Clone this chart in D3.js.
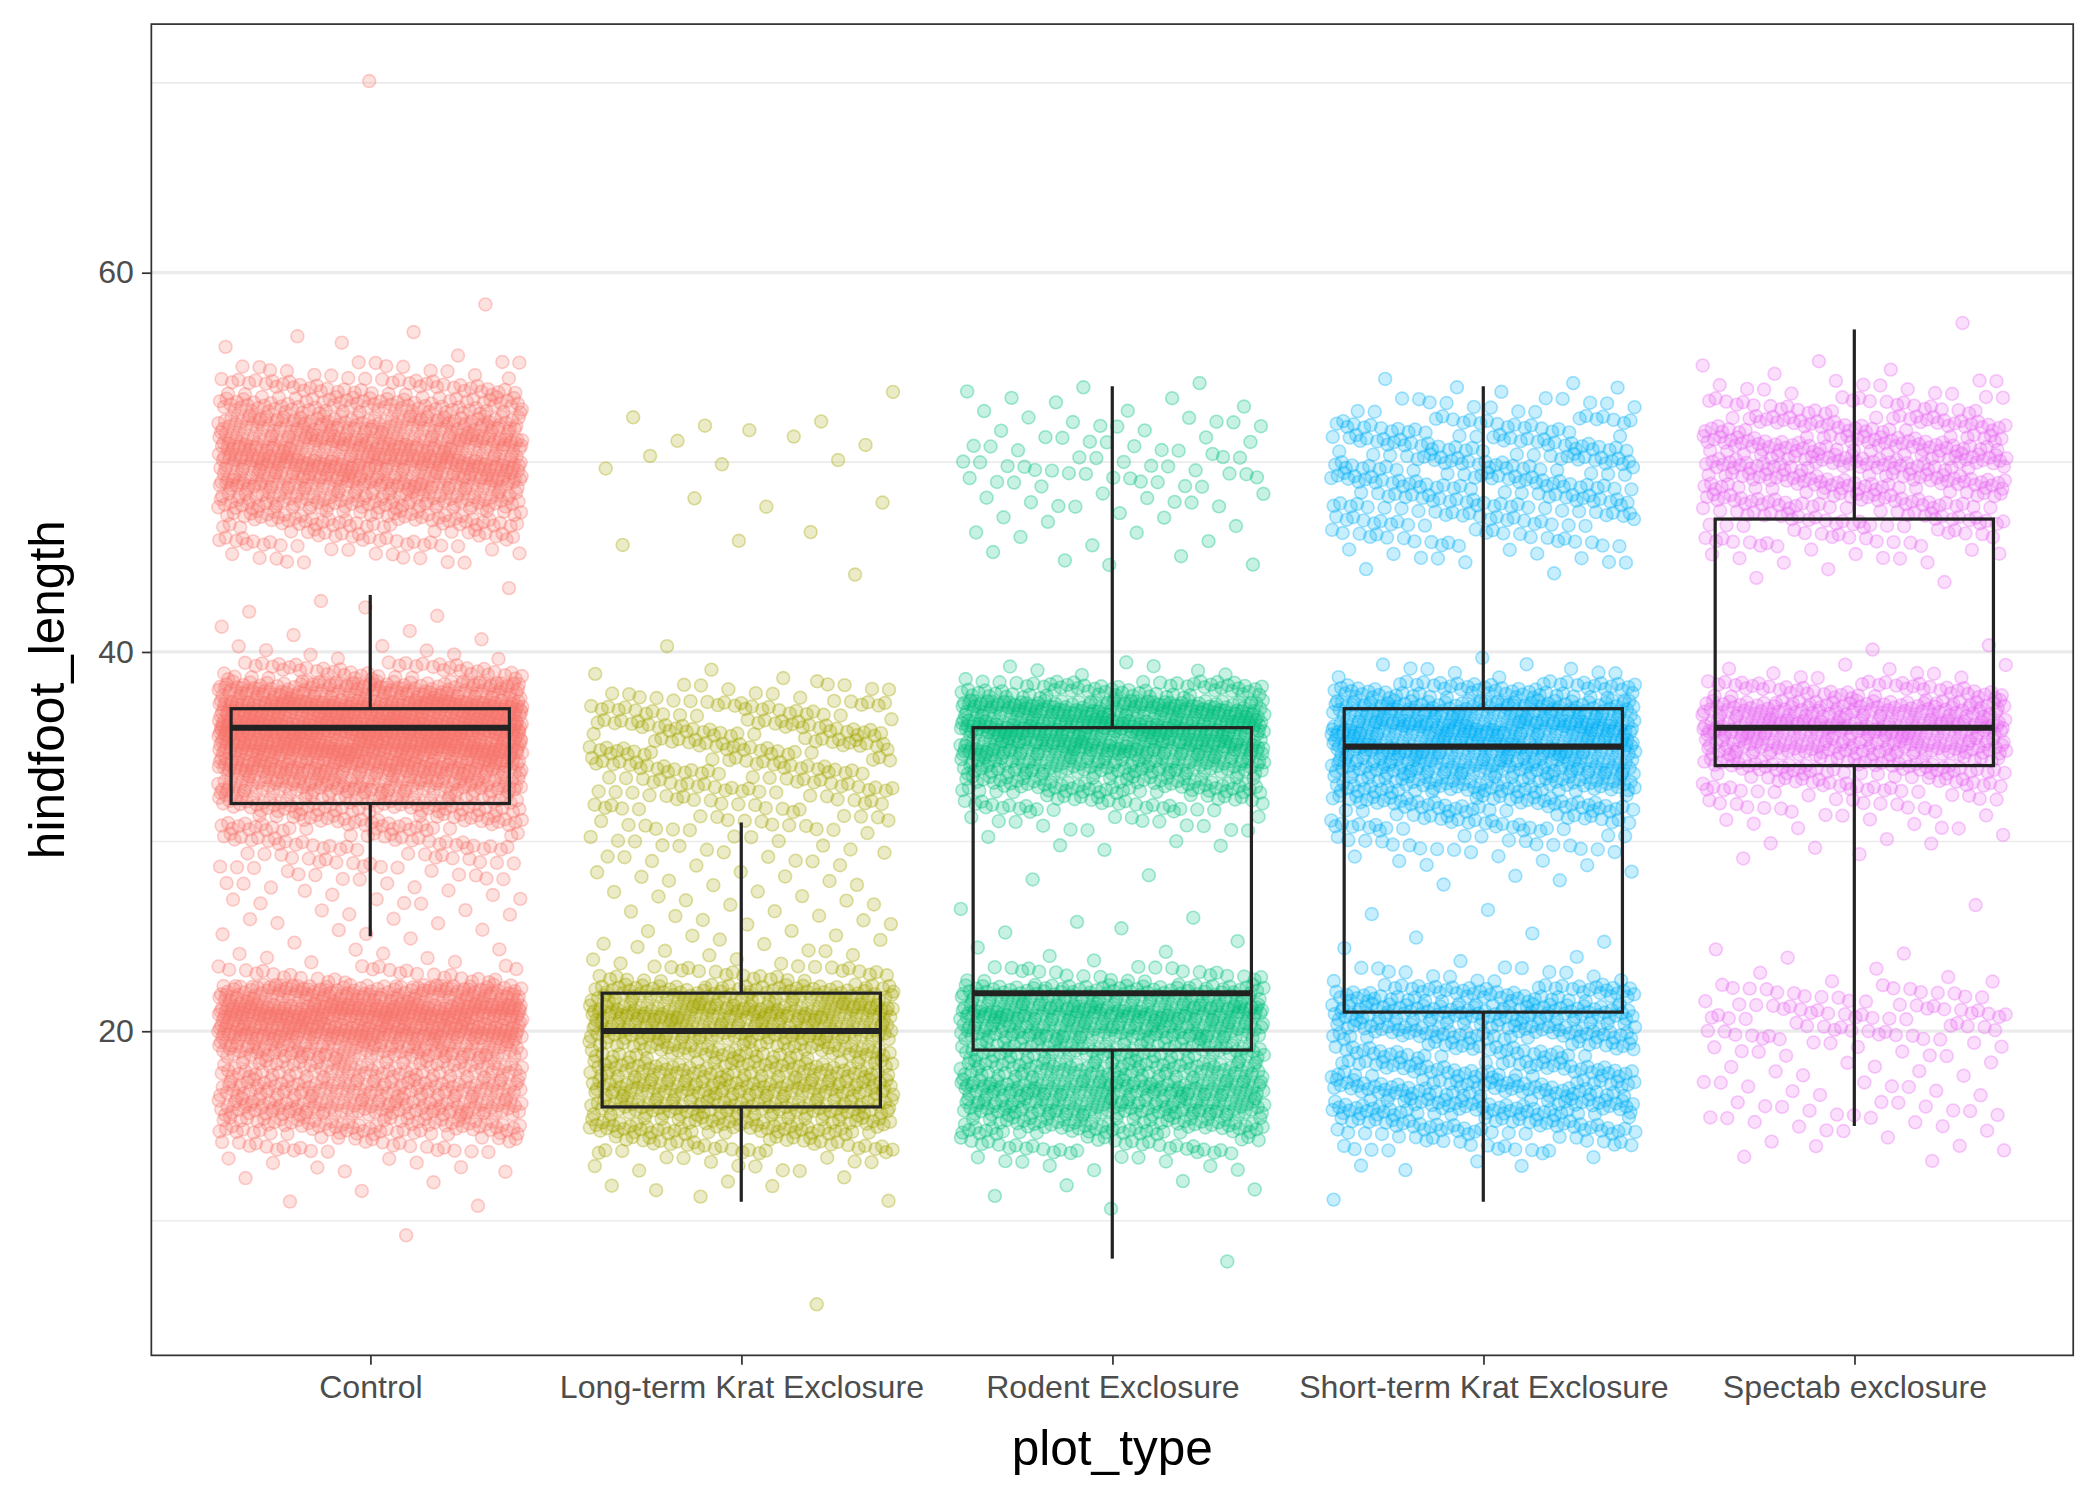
<!DOCTYPE html>
<html><head><meta charset="utf-8">
<script src="https://cdn.jsdelivr.net/npm/d3@7"></script>
<style>body{margin:0;background:#fff}text{font-family:"Liberation Sans",Arial,sans-serif}</style>
</head><body><div id="chart"></div>
<script>
var categories = ["Control", "Long-term Krat Exclosure", "Rodent Exclosure", "Short-term Krat Exclosure", "Spectab exclosure"];
var colors = ["#F8766D", "#A3A500", "#00BF7D", "#00B0F6", "#E76BF3"];
// [hindfoot_length, number of points]
var controlCounts = [[9,1],[11,2],[12,3],[13,8],[14,30],[15,80],[16,120],[17,110],[18,90],[19,130],[20,220],[21,260],[22,160],[23,30],[24,8],[25,6],[26,8],[27,10],[28,15],[29,25],[30,40],[31,60],[32,90],[33,140],[34,200],[35,280],[36,350],[37,300],[38,160],[39,50],[40,8],[41,4],[42,3],[43,2],[45,15],[46,40],[47,70],[48,110],[49,150],[50,180],[51,160],[52,130],[53,90],[54,50],[55,15],[56,3],[57,2],[58,1],[70,1]];
var longTermCounts = [[6,1],[11,2],[12,5],[13,12],[14,40],[15,80],[16,100],[17,110],[18,90],[19,80],[20,120],[21,140],[22,100],[23,30],[24,10],[25,8],[26,8],[27,8],[28,8],[29,10],[30,12],[31,20],[32,25],[33,35],[34,40],[35,45],[36,45],[37,35],[38,15],[39,3],[40,1],[44,1],[46,3],[48,3],[50,4],[51,3],[52,4],[54,1]];
var rodentCounts = [[8,1],[11,2],[12,3],[13,10],[14,35],[15,80],[16,120],[17,130],[18,100],[19,90],[20,130],[21,160],[22,110],[23,25],[24,4],[25,3],[26,3],[28,2],[30,5],[31,15],[32,40],[33,80],[34,120],[35,170],[36,200],[37,170],[38,70],[39,8],[45,5],[46,5],[47,5],[48,10],[49,15],[50,15],[51,12],[52,10],[53,6],[54,3]];
var shortTermCounts = [[11,1],[13,5],[14,25],[15,55],[16,80],[17,80],[18,60],[19,50],[20,80],[21,100],[22,70],[23,15],[24,3],[25,3],[26,2],[28,4],[29,8],[30,20],[31,40],[32,60],[33,90],[34,120],[35,150],[36,160],[37,130],[38,70],[39,10],[40,1],[44,2],[45,10],[46,25],[47,35],[48,45],[49,50],[50,50],[51,45],[52,35],[53,15],[54,5]];
var spectabCounts = [[13,2],[14,5],[15,10],[16,12],[17,10],[18,8],[19,12],[20,25],[21,30],[22,20],[23,5],[24,3],[27,1],[29,2],[30,5],[31,10],[32,20],[33,40],[34,70],[35,110],[36,140],[37,110],[38,50],[39,10],[40,2],[44,3],[45,10],[46,25],[47,40],[48,55],[49,70],[50,80],[51,75],[52,55],[53,30],[54,12],[55,4],[57,1]];
var allCounts = [controlCounts, longTermCounts, rodentCounts, shortTermCounts, spectabCounts];
// whisker low, Q1, median, Q3, whisker high
var boxStats = [[25,32,36,37,43],[11,16,20,22,31],[8,19,22,36,54],[11,21,35,37,54],[15,34,36,47,57]];
var yTicks = [20, 40, 60];
var yMinor = [10, 30, 50, 70];

var W = 1568, H = 1120;
var m = {left: 113, right: 20, top: 18, bottom: 108};
var svg = d3.select("#chart").append("svg")
    .attr("width", 2100).attr("height", 1500)
    .attr("viewBox", "0 0 " + W + " " + H);

var step = (W - m.left - m.right) / (categories.length - 1 + 1.18);
var x = d3.scalePoint().domain(categories)
    .range([m.left + 0.59 * step, W - m.right - 0.59 * step]);
var y = d3.scaleLinear().domain([2.9, 73.1]).range([H - m.bottom, m.top]);

var g = svg.append("g");
g.selectAll(".minor").data(yMinor).enter().append("line")
    .attr("x1", m.left).attr("x2", W - m.right)
    .attr("y1", d => y(d)).attr("y2", d => y(d))
    .attr("stroke", "#ebebeb").attr("stroke-width", 1.2);
g.selectAll(".major").data(yTicks).enter().append("line")
    .attr("x1", m.left).attr("x2", W - m.right)
    .attr("y1", d => y(d)).attr("y2", d => y(d))
    .attr("stroke", "#ebebeb").attr("stroke-width", 2.4);

// jittered points (deterministic low-discrepancy offsets)
var pts = [];
allCounts.forEach(function (counts, ci) {
    var k = 0;
    counts.forEach(function (c) {
        for (var j = 0; j < c[1]; j++) {
            k++;
            var fx = (k * 0.6180339887 + ci * 0.13) % 1;
            var fy = (k * 0.7548776662 + ci * 0.29) % 1;
            pts.push({ci: ci, dx: (fx * 2 - 1) * 0.41, v: c[0] + (fy * 2 - 1) * 0.45});
        }
    });
});
g.selectAll(".pt").data(pts).enter().append("circle")
    .attr("cx", d => x(categories[d.ci]) + d.dx * step)
    .attr("cy", d => y(d.v))
    .attr("r", 4.8)
    .attr("fill", d => colors[d.ci]).attr("fill-opacity", 0.22)
    .attr("stroke", d => colors[d.ci]).attr("stroke-opacity", 0.35).attr("stroke-width", 1.2);

// boxes
var boxes = g.selectAll(".box").data(boxStats).enter().append("g")
    .attr("transform", (d, i) => "translate(" + x(categories[i]) + ",0)");
var half = step * 0.375;
boxes.append("line").attr("x1", 0).attr("x2", 0).attr("y1", d => y(d[0])).attr("y2", d => y(d[1]))
    .attr("stroke", "#222").attr("stroke-width", 2.4);
boxes.append("line").attr("x1", 0).attr("x2", 0).attr("y1", d => y(d[3])).attr("y2", d => y(d[4]))
    .attr("stroke", "#222").attr("stroke-width", 2.4);
boxes.append("rect").attr("x", -half).attr("width", 2 * half)
    .attr("y", d => y(d[3])).attr("height", d => y(d[1]) - y(d[3]))
    .attr("fill", "none").attr("stroke", "#222").attr("stroke-width", 2.4);
boxes.append("line").attr("x1", -half).attr("x2", half).attr("y1", d => y(d[2])).attr("y2", d => y(d[2]))
    .attr("stroke", "#222").attr("stroke-width", 4.5);

// panel border
svg.append("rect").attr("x", m.left).attr("y", m.top)
    .attr("width", W - m.left - m.right).attr("height", H - m.top - m.bottom)
    .attr("fill", "none").attr("stroke", "#333").attr("stroke-width", 1.3);

var xa = svg.append("g").attr("transform", "translate(0," + (H - m.bottom) + ")")
    .call(d3.axisBottom(x).tickSize(7).tickPadding(8));
var ya = svg.append("g").attr("transform", "translate(" + m.left + ",0)")
    .call(d3.axisLeft(y).tickValues(yTicks).tickSize(7).tickPadding(6));
[xa, ya].forEach(function (a) {
    a.select(".domain").remove();
    a.selectAll("line").attr("stroke", "#333").attr("stroke-width", 1.3);
    a.selectAll("text").attr("fill", "#4d4d4d").style("font-size", "24px");
});

svg.append("text").attr("x", (m.left + W - m.right) / 2).attr("y", 1094)
    .attr("text-anchor", "middle").style("font-size", "37px").text("plot_type");
svg.append("text").attr("transform", "translate(48," + ((m.top + H - m.bottom) / 2) + ") rotate(-90)")
    .attr("text-anchor", "middle").style("font-size", "37px").text("hindfoot_length");
</script></body></html>
